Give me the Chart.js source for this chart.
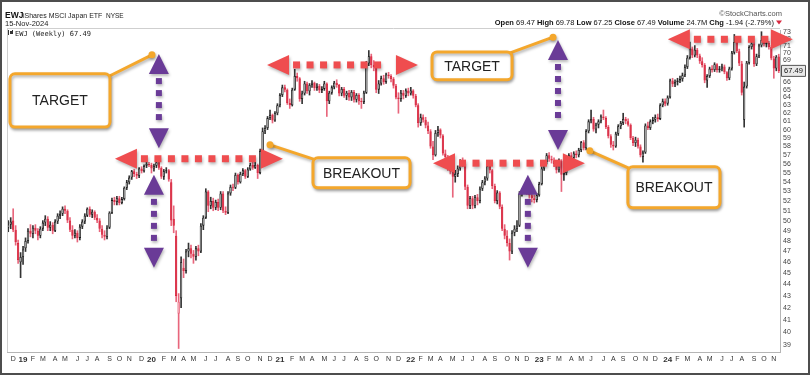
<!DOCTYPE html>
<html><head><meta charset="utf-8">
<script src="https://cdn.jsdelivr.net/npm/chart.js@4.4.1/dist/chart.umd.min.js"></script>
<style>html,body{margin:0;padding:0;background:#fff;}#wrap{width:810px;height:375px;}</style>
</head><body><div id="wrap"><canvas id="c" width="810" height="375"></canvas></div>
<script>
// Weekly candles [open, high, low, close]
const w2018 = [
[49.3,50.0,48.9,49.6],[49.6,50.3,49.2,49.9],[50.0,51.2,48.9,49.1],[49.1,49.5,47.6,47.9],[47.8,48.1,45.9,46.2],[46.0,46.9,44.6,46.5]];
const w2019 = [
[46.5,47.5,45.8,47.2],[47.3,48.3,47.0,48.0],[48.0,49.2,47.8,49.0],[49.0,49.6,48.4,48.7],[48.7,49.5,48.3,49.3],[49.3,49.6,48.7,49.0],
[49.0,49.2,48.1,48.5],[48.5,49.4,48.3,49.2],[49.2,50.0,49.0,49.8],[49.8,50.5,49.5,50.2],[50.2,50.4,49.0,49.3],[49.3,49.9,49.0,49.6],
[49.6,49.8,48.7,49.0],[49.0,50.1,48.9,49.9],[49.9,50.7,49.7,50.5],[50.5,51.0,50.2,50.7],[50.7,51.4,50.5,51.2],[51.2,51.5,50.7,51.0],
[51.0,51.1,49.8,50.0],[50.0,50.3,48.9,49.1],[49.1,49.5,48.2,48.5],[48.5,49.1,48.3,48.8],[48.8,49.0,47.9,48.3],[48.3,49.6,48.1,49.4],
[49.4,50.1,49.2,49.9],[49.9,50.7,49.7,50.5],[50.5,51.3,50.4,51.2],[51.2,51.4,50.4,50.6],[50.6,51.1,50.3,50.9],[50.9,51.0,50.1,50.3],
[50.3,50.6,49.8,50.0],[50.0,50.2,48.9,49.2],[49.2,49.5,48.3,48.6],[48.6,49.0,48.1,48.4],[48.4,49.5,48.2,49.3],[49.3,50.9,49.2,50.8],
[50.8,52.3,50.7,52.1],[52.1,52.4,51.6,51.9],[51.9,52.5,51.6,52.3],[52.3,52.5,51.6,51.8],[51.8,52.4,51.7,52.2],[52.2,53.5,52.1,53.4],
[53.4,54.2,53.2,54.0],[54.0,54.7,53.8,54.5],[54.5,55.3,54.3,55.2],[55.2,55.4,54.6,54.9],[54.9,55.1,54.4,54.7],[54.7,55.6,54.5,55.5],
[55.5,55.7,55.0,55.2],[55.2,55.9,55.1,55.8],[55.8,56.2,55.6,56.0],[56.0,56.2,55.7,55.9]];
const w2020 = [
[55.9,56.1,55.0,55.5],[55.5,56.0,55.2,55.8],[55.8,56.4,55.6,56.2],[56.2,56.3,55.4,55.6],[55.6,55.7,54.4,54.6],[54.6,55.4,54.3,55.2],
[55.2,55.6,55.0,55.3],[55.3,55.4,54.1,54.3],[54.0,54.3,49.5,50.0],[50.2,51.5,48.8,49.5],[48.5,49.0,42.5,43.0],[41.5,43.2,38.7,42.5],
[42.8,46.5,42.0,46.0],[45.5,46.3,44.6,45.2],[45.2,47.2,45.0,47.0],[47.0,47.8,46.5,47.3],[47.3,47.6,46.4,46.8],[46.8,47.1,45.9,46.5],
[46.5,47.5,46.2,47.3],[47.3,47.6,46.6,47.0],[47.0,49.7,46.9,49.5],[49.5,50.5,49.1,50.3],[50.3,53.3,50.2,53.0],[53.0,53.1,50.9,51.5],
[51.5,52.4,51.2,52.0],[52.0,52.3,51.0,51.3],[51.3,52.1,51.1,51.9],[51.9,52.2,51.0,51.3],[51.3,53.0,51.1,52.8],[52.8,53.0,50.8,51.0],
[51.0,51.4,50.6,50.8],[50.8,53.0,50.7,52.8],[52.8,53.7,52.6,53.5],[53.5,53.8,53.1,53.4],[53.4,55.0,53.3,54.8],[54.8,54.9,53.8,54.0],
[54.0,55.1,53.9,54.9],[54.9,55.5,54.7,55.3],[55.3,55.4,54.4,54.6],[54.6,55.6,54.5,55.4],[55.4,56.1,55.3,55.9],[55.9,56.2,55.4,55.6],
[55.6,56.2,55.5,55.9],[55.9,56.0,54.4,55.0],[55.0,57.7,54.9,57.5],[57.5,60.2,57.4,59.8],[59.8,60.5,59.5,60.2],[60.2,61.6,60.0,61.4],
[61.4,62.4,61.2,61.8],[61.8,61.9,60.8,61.1],[61.1,62.2,61.0,62.0],[62.0,63.2,61.8,63.0]];
const w2021 = [
[63.0,64.5,62.8,64.3],[64.3,65.6,64.1,65.3],[65.3,65.6,64.7,65.0],[65.0,65.1,63.1,63.3],[63.3,63.8,62.6,63.0],[63.0,65.2,62.9,65.0],
[65.0,67.7,64.9,66.8],[66.8,67.2,66.1,66.5],[66.5,66.6,63.5,63.8],[63.8,64.8,63.2,64.5],[64.5,66.1,64.3,65.8],[65.8,66.0,64.5,64.8],
[64.8,65.8,64.3,65.6],[65.6,66.2,65.3,65.9],[65.9,66.0,64.9,65.2],[65.2,65.8,64.9,65.5],[65.5,65.7,64.6,64.9],[64.9,65.4,64.6,65.1],
[65.1,66.1,64.9,65.8],[65.8,65.9,61.6,63.5],[63.5,64.8,63.2,64.6],[64.6,65.5,64.4,65.3],[65.3,66.1,65.1,65.9],[65.9,66.3,65.3,65.6],
[65.6,65.7,64.2,64.5],[64.5,65.3,64.2,65.1],[65.1,65.3,64.0,64.2],[64.2,64.8,63.7,64.6],[64.6,64.9,63.6,64.0],[64.0,64.9,63.6,64.7],
[64.7,64.9,63.4,63.7],[63.7,64.5,63.4,64.3],[64.3,64.5,63.1,63.5],[63.5,63.9,62.6,63.4],[63.4,64.8,63.2,64.6],[64.6,68.8,64.5,68.5],
[68.5,70.3,68.2,69.5],[69.5,69.8,67.9,68.3],[68.3,68.9,67.5,68.0],[68.0,68.2,64.6,65.0],[65.0,66.2,64.5,65.8],[65.8,66.8,65.6,66.5],
[66.5,66.9,65.7,66.0],[66.0,67.2,65.8,67.0],[67.0,67.3,66.5,66.8],[66.8,67.0,66.0,66.4],[66.4,66.6,65.2,65.5],[65.5,65.7,63.8,64.0],
[64.0,64.6,62.0,63.8],[63.8,64.9,63.5,64.6],[64.6,64.9,63.8,64.2],[64.2,65.1,64.0,64.9]];
const w2022 = [
[64.9,65.2,64.2,64.5],[64.5,65.3,64.3,64.9],[64.9,65.0,63.9,64.2],[64.2,64.4,62.8,63.0],[63.0,63.2,60.3,60.8],[60.8,61.9,60.5,61.5],
[61.5,61.8,60.9,61.2],[61.2,61.5,60.2,60.5],[60.5,60.9,59.5,59.8],[59.8,60.0,57.8,58.0],[58.0,58.6,56.5,57.0],[57.0,59.9,56.9,59.6],
[59.6,60.4,59.2,60.0],[60.0,60.1,59.0,59.3],[59.3,59.4,57.0,57.2],[57.2,57.6,56.5,56.8],[56.8,57.0,55.3,55.6],[55.6,56.2,54.9,55.2],
[55.2,55.6,52.4,54.6],[54.6,55.3,54.0,54.9],[54.9,55.8,54.6,55.5],[55.5,56.5,55.3,56.3],[56.3,56.7,55.7,56.0],[56.0,56.1,53.2,53.5],
[53.5,53.7,51.2,51.5],[51.5,52.5,51.2,52.3],[52.3,52.5,51.2,51.5],[51.5,52.6,51.3,52.4],[52.4,52.7,51.6,52.0],[52.0,53.5,51.8,53.3],
[53.3,54.2,53.1,54.0],[54.0,54.6,53.7,54.4],[54.4,56.0,54.2,55.8],[55.8,56.0,55.0,55.3],[55.3,55.4,53.3,53.6],[53.6,53.8,51.8,52.0],
[52.0,53.1,51.7,52.9],[52.9,53.0,51.2,51.4],[51.4,51.6,49.0,49.2],[49.2,49.6,48.2,48.5],[48.5,49.0,47.5,47.8],[47.8,48.2,46.2,47.0],
[47.0,49.0,46.8,48.8],[48.8,49.5,48.5,49.2],[49.2,50.0,48.9,49.5],[49.5,53.0,49.4,52.8],[52.8,53.3,52.5,53.0],[53.0,53.6,52.8,53.3],
[53.3,53.6,52.7,53.0],[53.0,53.4,52.3,52.6],[52.6,53.0,51.9,52.3],[52.3,52.6,51.8,52.1]];
const w2023 = [
[52.1,52.8,51.9,52.6],[52.6,54.0,52.5,53.8],[53.8,55.7,53.7,55.5],[55.5,56.4,55.3,56.2],[56.2,57.2,56.0,57.0],[57.0,57.3,56.3,56.6],
[56.6,56.9,56.1,56.4],[56.4,56.7,55.7,56.0],[56.0,56.2,55.0,55.3],[55.3,56.6,55.1,56.4],[56.4,56.5,53.0,54.8],[54.8,55.4,54.2,55.0],
[55.0,56.2,54.8,56.0],[56.0,57.2,55.8,57.0],[57.0,57.3,56.4,56.7],[56.7,57.4,56.5,57.2],[57.2,57.5,56.7,57.0],[57.0,57.8,56.8,57.6],
[57.6,58.6,57.4,58.5],[58.5,58.7,57.6,57.8],[57.8,60.0,57.6,59.8],[59.8,61.2,59.6,61.0],[61.0,62.4,60.8,61.3],[61.3,61.5,59.8,60.0],
[60.0,60.8,59.6,60.6],[60.6,61.2,60.2,61.0],[61.0,61.8,60.8,61.6],[61.6,62.4,61.2,61.4],[61.4,61.6,60.1,60.3],[60.3,60.5,59.0,59.2],
[59.2,59.4,57.9,58.2],[58.2,58.6,57.6,58.0],[58.0,59.7,57.9,59.5],[59.5,60.6,59.3,60.4],[60.4,61.0,60.1,60.8],[60.8,62.0,60.6,61.3],
[61.3,61.5,60.7,61.0],[61.0,61.3,60.4,60.6],[60.6,60.7,58.8,59.0],[59.0,59.2,58.1,58.4],[58.4,59.1,58.0,58.8],[58.8,59.0,57.8,58.0],
[58.0,58.2,56.8,57.0],[56.8,57.5,56.2,57.3],[57.3,60.7,57.2,60.5],[60.5,60.9,60.0,60.2],[60.2,61.2,60.0,61.0],[61.0,61.5,60.7,61.2],
[61.2,61.8,60.9,61.5],[61.5,61.9,61.0,61.3],[61.3,63.2,61.2,63.0],[63.0,63.8,62.8,63.5]];
const w2024 = [
[63.5,63.8,62.9,63.2],[63.2,64.2,63.0,64.0],[64.0,66.4,63.9,66.2],[66.2,66.5,65.4,65.7],[65.7,66.3,65.4,66.0],[66.0,66.5,65.6,66.2],
[66.2,66.8,65.9,66.4],[66.4,67.2,66.1,66.9],[66.9,68.3,66.7,68.0],[68.0,69.6,67.8,69.3],[69.3,71.5,69.1,70.6],[70.6,70.8,69.3,69.6],
[69.6,71.0,69.4,70.4],[70.4,70.6,69.3,69.6],[69.6,69.8,68.5,68.8],[68.8,69.3,68.0,68.3],[68.3,68.5,65.9,66.2],[66.2,67.0,65.3,66.8],
[66.8,68.0,66.6,67.8],[67.8,68.2,67.3,67.6],[67.6,68.6,67.4,68.4],[68.4,68.5,67.3,67.6],[67.6,68.1,67.3,67.8],[67.8,68.4,67.5,68.1],
[68.1,68.3,67.1,67.3],[67.3,67.4,66.2,66.5],[66.5,68.0,66.3,67.8],[67.8,70.2,67.6,70.0],[70.0,72.6,69.8,71.5],[71.5,71.8,70.0,70.2],
[70.2,70.5,68.2,68.5],[68.5,68.8,64.3,64.6],[61.2,66.0,60.3,65.4],[65.4,68.8,65.2,68.6],[68.6,71.0,68.4,70.8],[70.8,71.6,70.5,71.3],
[71.3,71.5,68.1,68.4],[68.4,69.8,68.2,69.5],[69.5,71.2,69.3,71.0],[71.0,73.0,70.8,71.8],[71.8,72.0,70.9,71.2],[71.2,71.8,70.8,71.4],
[71.4,71.6,70.5,70.8],[70.8,71.0,69.0,69.2],[69.2,69.5,66.5,67.8],[67.8,69.6,67.5,69.43],[69.47,69.78,67.25,67.49]];

const firstWeek = '2018-11-23';
const monthLetters = ['J','F','M','A','M','J','J','A','S','O','N','D'];
const yTickValues = [39,40,41,42,43,44,45,46,47,48,49,50,51,52,53,54,55,56,57,58,59,60,61,62,63,64,65,66,67,68,69,70,71,72,73];
const yHiddenLabels = [67,68];
const lastPrice = 67.49;

// annotations in data coords: [index, price]
const redArrows = [[43.2,111.2,56.6],[104.8,165.9,68.3],[172.0,233.5,56.1],[267.1,317.7,71.9]];
const purpleArrows = [[61.0,69.8,57.8],[59.0,54.8,45.5],[222.6,71.8,57.6],[210.4,54.8,45.5]];
const calloutBoxes = [
  {text:'TARGET',   box:[0.7,67.1,41.2,60.3],  from:[40.4,66.7], dot:[58.2,69.7]},
  {text:'TARGET',   box:[171.6,70.1,204.0,66.3], from:[202.7,69.9], dot:[220.6,72.2]},
  {text:'BREAKOUT', box:[123.4,56.7,162.7,53.4], from:[124.2,56.5], dot:[106.0,58.2]},
  {text:'BREAKOUT', box:[250.9,55.7,288.2,51.3], from:[251.7,55.5], dot:[235.5,57.5]}
];

const candles = [].concat(w2018,w2019,w2020,w2021,w2022,w2023,w2024);
const t0 = Date.parse(firstWeek+'T00:00:00Z');
const weekDates = candles.map((_,i)=> new Date(t0 + i*7*86400000));
const weekLabels = weekDates.map(d=>d.toISOString().slice(0,10));
const tickText = [], tickBold = [];
weekDates.forEach((d,i)=>{
  const m = d.getUTCMonth();
  if (i>0 && m !== weekDates[i-1].getUTCMonth()) {
    if (m===0){ tickText.push(String(d.getUTCFullYear()).slice(2)); tickBold.push(true); }
    else { tickText.push(monthLetters[m]); tickBold.push(false); }
  } else { tickText.push(''); tickBold.push(false); }
});

const isUp = i => candles[i][3] >= (i>0 ? candles[i-1][3] : candles[i][0]);
const isHollow = i => candles[i][3] > candles[i][0];
const RED='#d8283f', RED_LT='#e8667c', BLK='#1a1a1a';

const FONT = "'Liberation Sans', Arial, sans-serif";

const decor = {
  id:'decor',
  beforeDraw(chart){
    const c=chart.ctx; c.save(); c.fillStyle='#fff'; c.fillRect(0,0,chart.width,chart.height); c.restore();
  },
  afterDraw(chart){
    const c=chart.ctx, xs=chart.scales.x, ys=chart.scales.y, ca=chart.chartArea;
    const X=i=>xs.getPixelForValue(i), Y=p=>ys.getPixelForValue(p);
    c.save();
    // frame lines
    c.strokeStyle='#cfcfcf'; c.lineWidth=1;
    c.beginPath(); c.moveTo(ca.left+0.5,28); c.lineTo(ca.left+0.5,ca.bottom); c.stroke();
    c.beginPath(); c.moveTo(ca.left,28.5); c.lineTo(ca.right,28.5); c.stroke();
    // header
    c.fillStyle='#111'; c.textBaseline='alphabetic'; c.textAlign='left';
    c.font='bold 8.5px '+FONT; c.fillText('EWJ',5,18);
    c.font='7px '+FONT; c.fillStyle='#222'; c.fillText('iShares MSCI Japan ETF',23,18);
    c.font='6.5px '+FONT; c.fillText('NYSE',106,18);
    c.font='7.5px '+FONT; c.fillText('15-Nov-2024',5,26);
    c.fillStyle='#555'; c.textAlign='right'; c.font='7.5px '+FONT; c.fillText('\u00A9StockCharts.com',782,16);
    // stats line right aligned
    const parts=[['Open ',1],['69.47 ',0],['High ',1],['69.78 ',0],['Low ',1],['67.25 ',0],['Close ',1],['67.49 ',0],['Volume ',1],['24.7M ',0],['Chg ',1],['-1.94 (-2.79%) ',0]];
    let w=0; parts.forEach(p=>{c.font=(p[1]?'bold ':'')+'7.5px '+FONT; w+=c.measureText(p[0]).width;});
    let x=776-w; c.textAlign='left'; c.fillStyle='#111';
    parts.forEach(p=>{c.font=(p[1]?'bold ':'')+'7.5px '+FONT; c.fillText(p[0],x,25); x+=c.measureText(p[0]).width;});
    c.fillStyle=RED; c.beginPath(); c.moveTo(x,20.5); c.lineTo(x+6,20.5); c.lineTo(x+3,24.5); c.closePath(); c.fill();
    // legend
    c.fillStyle='#333'; c.fillRect(8,30,1,5); c.fillRect(10,31,2,3); c.fillRect(12,30,1,4);
    c.font="7px 'DejaVu Sans Mono', monospace"; c.fillStyle='#222'; c.fillText('EWJ (Weekly) 67.49',15,35.5);
    // price box
    const py=Y(lastPrice);
    c.fillStyle='#e9e9e9'; c.strokeStyle='#555'; c.lineWidth=1;
    c.beginPath(); c.rect(781.5,py-5.5,24,11); c.fill(); c.stroke();
    c.fillStyle='#111'; c.font='7.5px '+FONT; c.textAlign='center'; c.textBaseline='middle'; c.fillText('67.49',793.5,py+0.5);
    c.textBaseline='alphabetic';
    // callouts
    calloutBoxes.forEach(b=>{
      const x1=X(b.box[0]), y1=Y(b.box[1]), x2=X(b.box[2]), y2=Y(b.box[3]);
      c.save(); c.shadowColor='rgba(0,0,0,0.3)'; c.shadowBlur=3; c.shadowOffsetX=1; c.shadowOffsetY=2;
      c.strokeStyle='#f4a72c'; c.lineWidth=3; c.lineCap='round';
      c.beginPath(); c.moveTo(X(b.from[0]),Y(b.from[1])); c.lineTo(X(b.dot[0]),Y(b.dot[1])); c.stroke();
      c.fillStyle='#f4a72c'; c.beginPath(); c.arc(X(b.dot[0]),Y(b.dot[1]),3.5,0,Math.PI*2); c.fill();
      c.fillStyle='#fff'; c.beginPath(); c.roundRect(x1,y1,x2-x1,y2-y1,5); c.fill(); c.stroke();
      c.restore();
      c.fillStyle='#222'; c.font='14px '+FONT; c.textAlign='center'; c.textBaseline='middle';
      c.fillText(b.text,(x1+x2)/2,(y1+y2)/2+1);
    });
    // red horizontal arrows
    c.save(); c.shadowColor='rgba(0,0,0,0.28)'; c.shadowBlur=3; c.shadowOffsetX=1; c.shadowOffsetY=2;
    c.fillStyle='#ef4d4f';
    redArrows.forEach(a=>{
      const xa=X(a[0]), xb=X(a[1]), y=Y(a[2]);
      c.beginPath(); c.moveTo(xa,y); c.lineTo(xa+22,y-10); c.lineTo(xa+22,y+10); c.closePath(); c.fill();
      c.beginPath(); c.moveTo(xb,y); c.lineTo(xb-22,y-10); c.lineTo(xb-22,y+10); c.closePath(); c.fill();
      for(let s=xa+26; s+7<=xb-24; s+=13.5){ c.fillRect(s,y-3.5,7,7); }
    });
    // purple vertical arrows
    c.fillStyle='#6a3b97';
    purpleArrows.forEach(a=>{
      const x=X(a[0]), ya=Y(a[1]), yb=Y(a[2]);
      c.beginPath(); c.moveTo(x,ya); c.lineTo(x-10,ya+20); c.lineTo(x+10,ya+20); c.closePath(); c.fill();
      c.beginPath(); c.moveTo(x,yb); c.lineTo(x-10,yb-20); c.lineTo(x+10,yb-20); c.closePath(); c.fill();
      for(let s=ya+24; s+6<=yb-22; s+=12){ c.fillRect(x-3,s,6,6); }
    });
    c.restore();
    // outer frame
    c.strokeStyle='#4d4d4d'; c.lineWidth=2; c.strokeRect(1,1,chart.width-2,chart.height-2);
    c.restore();
  }
};

new Chart(document.getElementById('c'),{
  type:'bar',
  data:{
    labels: weekLabels,
    datasets:[
      { label:'body', data: candles.map(c=>[Math.min(c[0],c[3]),Math.max(c[0],c[3])]),
        grouped:false, barPercentage:0.95, categoryPercentage:1, minBarLength:1, borderSkipped:false,
        backgroundColor: ctx=>{const i=ctx.dataIndex; return isHollow(i) ? (isUp(i)?'#c8c8c8':'#f5bcc6') : (isUp(i)?BLK:RED);},
        borderColor: ctx=>{const i=ctx.dataIndex; return isUp(i)?BLK:(isHollow(i)?RED_LT:RED);},
        borderWidth: 0.8 },
      { label:'wick', data: candles.map(c=>[c[2],c[1]]),
        grouped:false, barThickness:1, borderWidth:0,
        backgroundColor: ctx=>{const i=ctx.dataIndex; return isUp(i)?'#333':RED_LT;} }
    ]
  },
  options:{
    responsive:false, animation:false, devicePixelRatio:1,
    layout:{padding:{left:7,top:30,right:0,bottom:0}},
    plugins:{legend:{display:false},tooltip:{enabled:false}},
    scales:{
      x:{ type:'category', offset:true,
        grid:{display:false, drawTicks:false},
        border:{display:true,color:'#b5b5b5',dash:[1,2]},
        afterFit: s=>{ s.height=23; },
        ticks:{ autoSkip:false, maxRotation:0, minRotation:0, padding:3, color:'#333',
          font: ctx=>({family:FONT, size: tickBold[ctx.index]?8:7, weight: tickBold[ctx.index]?'bold':'normal'}),
          callback:(v,i)=>tickText[i] }
      },
      y:{ type:'logarithmic', position:'right', min:38.43, max:73.25,
        grid:{display:false, drawTicks:false},
        border:{display:true,color:'#b5b5b5',dash:[1,2]},
        afterFit: s=>{ s.width=30; },
        afterBuildTicks: s=>{ s.ticks = yTickValues.map(v=>({value:v})); },
        ticks:{ autoSkip:false, padding:3, color:'#444', font:{family:FONT,size:7},
          callback: v => yHiddenLabels.includes(v) ? '' : String(v) }
      }
    }
  },
  plugins:[decor]
});
</script></body></html>
